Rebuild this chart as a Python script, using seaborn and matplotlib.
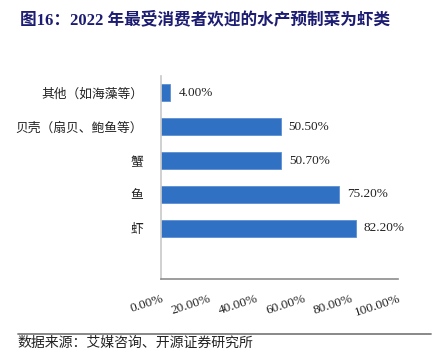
import pandas as pd
import matplotlib
matplotlib.use('Agg')
import matplotlib.pyplot as plt
import seaborn as sns

# Chart data
categories = ['其他（如海藻等）', '贝壳（扇贝、鲍鱼等）', '蟹', '鱼', '虾']
shares = [4.0, 50.5, 50.7, 75.2, 82.2]
x_ticks = [0, 20, 40, 60, 80, 100]
x_tick_labels = ['0.00%', '20.00%', '40.00%', '60.00%', '80.00%', '100.00%']

title = '图16：2022 年最受消费者欢迎的水产预制菜为虾类'
source = '数据来源：艾媒咨询、开源证券研究所'

df = pd.DataFrame({'category': categories, 'share': shares})

sns.set_style('white')
plt.rcParams['font.family'] = ['Liberation Serif', 'Noto Sans CJK SC', 'DejaVu Sans']

fig = plt.figure(figsize=(4.43, 3.59), dpi=100)
ax = fig.add_axes([0.3634, 0.2228, 0.535, 0.5655])

sns.barplot(data=df, x='share', y='category', orient='h', color='#3171c3',
            width=0.5, saturation=1, edgecolor='#5d8fd2', linewidth=0.6, ax=ax)

# Value labels
for i, v in enumerate(shares):
    ax.text(v + 3.4, i, f'{v:.2f}%', va='center', ha='left', fontsize=9.5,
            family=['Liberation Serif'], color='#222222')

ax.set_xlim(0, 100)
ax.set_ylim(5.5, -0.5)
ax.set_xlabel('')
ax.set_ylabel('')

# Axis styling
ax.spines['top'].set_visible(False)
ax.spines['right'].set_visible(False)
ax.spines['left'].set_color('#c8c8c8')
ax.spines['left'].set_linewidth(1.2)
ax.spines['bottom'].set_color('#8c8c8c')
ax.spines['bottom'].set_linewidth(1.2)

ax.set_yticks(range(len(categories)))
ax.set_yticklabels(categories, family=['Noto Sans CJK SC'], fontsize=9.2, color='#222222')
ax.set_yticks([i - 0.5 for i in range(len(categories) + 1)], minor=True)
ax.tick_params(axis='y', which='major', length=0, pad=13)
ax.tick_params(axis='y', which='minor', direction='in', length=4, color='#aaaaaa', width=1)

ax.set_xticks(x_ticks)
ax.set_xticklabels(x_tick_labels, rotation=18, ha='right', va='top',
                   rotation_mode='anchor', fontsize=9.5, color='#222222')
ax.tick_params(axis='x', direction='in', length=4, color='#aaaaaa', width=1, pad=10)

# Title, rule and source
fig.text(0.045, 0.944, title, fontsize=12, fontweight='bold', color='#1c1c72',
         va='center', ha='left', family=['Liberation Serif', 'Noto Sans CJK SC'])
fig.add_artist(plt.Line2D([0.04, 0.972], [0.07, 0.07], color='#7f7f7f', linewidth=1.3))
fig.text(0.04, 0.044, source, fontsize=10, color='#222222', va='center', ha='left',
         family=['Noto Sans CJK SC'])

plt.savefig('out.png', dpi=100)
